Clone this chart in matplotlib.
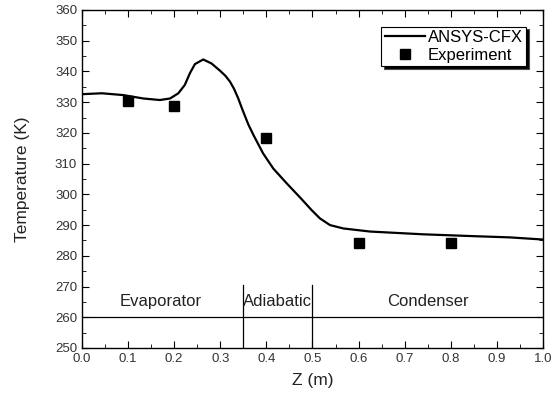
import numpy as np
import matplotlib.pyplot as plt
from matplotlib.ticker import MultipleLocator

plt.rcParams['font.family'] = ['Liberation Sans', 'DejaVu Sans']

# CFD curve
z_cfx = [0.0, 0.043, 0.09, 0.133, 0.169, 0.191, 0.209, 0.223, 0.234, 0.245,
         0.263, 0.281, 0.299, 0.311, 0.321, 0.330, 0.339, 0.348, 0.361, 0.372,
         0.393, 0.415, 0.444, 0.473, 0.498, 0.516, 0.538, 0.567, 0.625, 0.74,
         0.849, 0.928, 1.0]
t_cfx = [332.6, 332.9, 332.3, 331.2, 330.7, 331.2, 332.9, 335.6, 339.4, 342.4,
         343.9, 342.6, 340.3, 338.6, 336.7, 334.3, 331.2, 327.6, 322.7, 319.3,
         313.3, 308.4, 303.6, 299.0, 294.9, 292.2, 290.0, 288.9, 287.9, 287.0,
         286.4, 286.0, 285.3]

# experiment points
z_exp = [0.1, 0.2, 0.4, 0.6, 0.8]
t_exp = [330.5, 328.9, 318.3, 284.2, 284.2]

regions = ["Evaporator", "Adiabatic", "Condenser"]
region_x = [0.17, 0.425, 0.75]
bounds = [0.35, 0.5]

fig = plt.figure(figsize=(5.6, 4), dpi=100)
ax = fig.add_axes([0.1464, 0.13, 0.8232, 0.845])

ax.plot(z_cfx, t_cfx, color='black', lw=1.6, label='ANSYS-CFX')
ax.plot(z_exp, t_exp, 's', color='black', ms=7, label='Experiment')

ax.axhline(260, color='black', lw=0.9)
for b in bounds:
    ax.plot([b, b], [250, 270.5], color='black', lw=0.9)
for name, x in zip(regions, region_x):
    ax.text(x, 265, name, ha='center', va='center', fontsize=12, color='#222222')

ax.set_xlim(0, 1)
ax.set_ylim(250, 360)
ax.xaxis.set_major_locator(MultipleLocator(0.1))
ax.xaxis.set_minor_locator(MultipleLocator(0.05))
ax.yaxis.set_major_locator(MultipleLocator(10))
ax.yaxis.set_minor_locator(MultipleLocator(5))
ax.tick_params(which='both', direction='in', top=True, right=True, labelsize=9.5, colors='black')
ax.tick_params(which='major', length=5)
ax.tick_params(which='minor', length=3)
for lbl in ax.get_xticklabels() + ax.get_yticklabels():
    lbl.set_color('#333333')
for s in ax.spines.values():
    s.set_linewidth(1.0)

ax.set_xlabel('Z (m)', fontsize=12.5, color='#222222', labelpad=6)
ax.set_ylabel('Temperature (K)', fontsize=12.5, color='#222222', labelpad=18)

leg = ax.legend(loc='upper right', fancybox=False,
                shadow={'facecolor': 'black', 'alpha': 1}, edgecolor='black',
                fontsize=12, handlelength=2.4, borderpad=0.2, labelspacing=0.15,
                handletextpad=0.2, borderaxespad=1.0, framealpha=1)
leg.get_frame().set_linewidth(0.8)

fig.savefig('out.png')
